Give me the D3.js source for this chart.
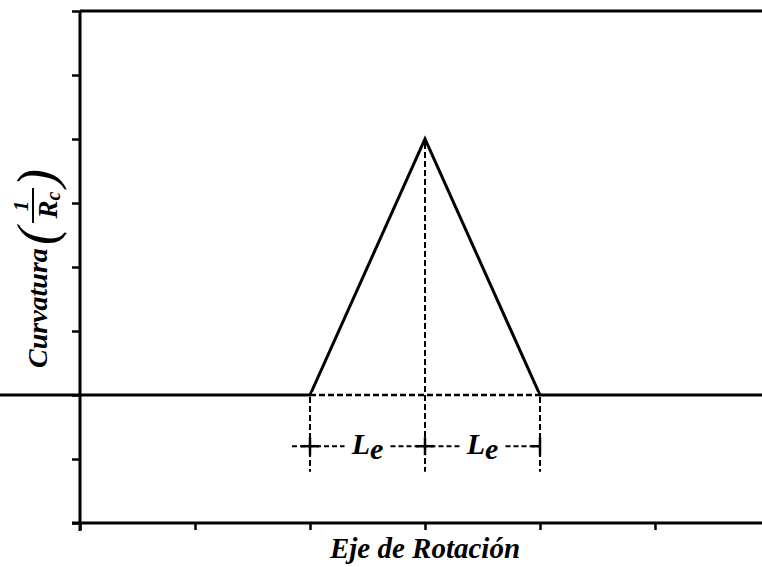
<!DOCTYPE html>
<html>
<head>
<meta charset="utf-8">
<script src="https://d3js.org/d3.v7.min.js"></script>
<style>
  body { margin: 0; background: #fff; }
  svg { display: block; }
  .lbl { font-family: "Liberation Serif", "DejaVu Serif", serif; font-style: italic; font-weight: bold; fill: #000; }
</style>
</head>
<body>
<div id="container"></div>
<script>
var width = 762;
var height = 567;

// positions along the rotation axis (tick units) and curvature values
var xTicks = [0, 1, 2, 3, 4, 5, 6];
var yTicks = [-2, -1, 0, 1, 2, 3, 4, 5, 6];
var profileX = [-1, 2, 3, 4, 7];
var profileY = [0, 0, 4, 0, 0];
var markX = [2, 3, 4];
var labels = ["L", "L"];
var labelSub = ["e", "e"];

var x = d3.scaleLinear().domain([0, 6]).range([80, 770]);
var y = d3.scaleLinear().domain([-2, 6]).range([523, 11]);

var svg = d3.select("#container").append("svg")
            .attr("width", width)
            .attr("height", height);

// axes
var gx = svg.append("g")
            .attr("transform", "translate(0," + y(-2) + ")")
            .call(d3.axisBottom(x).tickValues(xTicks).tickSize(7).tickSizeOuter(0).tickFormat(""));
var gy = svg.append("g")
            .attr("transform", "translate(" + x(0) + ",0)")
            .call(d3.axisLeft(y).tickValues(yTicks).tickSize(8).tickSizeOuter(0).tickFormat(""));
[gx, gy].forEach(function (g) {
  g.select(".domain").attr("stroke", "#000").attr("stroke-width", 3);
  g.selectAll(".tick line").attr("stroke", "#000").attr("stroke-width", 2.5);
});
gx.select(".domain").attr("d", "M" + (x(0) - 8) + ",0H" + width);
gy.select(".domain").attr("d", "M0," + y(6) + "V" + (y(-2) + 8));

// top frame
svg.append("line")
   .attr("x1", x(0)).attr("x2", width)
   .attr("y1", y(6)).attr("y2", y(6))
   .attr("stroke", "#000").attr("stroke-width", 3);

// curvature profile (solid, except under the triangle)
var line = d3.line().x(function (d) { return x(d[0]); }).y(function (d) { return y(d[1]); });
var pts = profileX.map(function (v, i) { return [v, profileY[i]]; });
svg.append("path")
   .datum(pts)
   .attr("d", line)
   .attr("fill", "none")
   .attr("stroke", "#000")
   .attr("stroke-width", 3)
   .attr("stroke-linejoin", "miter");
// cover the base with white, then dash it
svg.append("line")
   .attr("x1", x(markX[0]) + 2).attr("x2", x(markX[2]) - 2)
   .attr("y1", y(0)).attr("y2", y(0))
   .attr("stroke", "#fff").attr("stroke-width", 5);
svg.append("line")
   .attr("x1", x(markX[0])).attr("x2", x(markX[2]))
   .attr("y1", y(0)).attr("y2", y(0))
   .attr("stroke", "#000").attr("stroke-width", 2.5)
   .attr("stroke-dasharray", "6,3");

// vertical dashed guides
var dimY = y(-0.8);
svg.selectAll("line.guide")
   .data(markX)
   .enter()
   .append("line")
   .attr("class", "guide")
   .attr("x1", function (d) { return x(d); })
   .attr("x2", function (d) { return x(d); })
   .attr("y1", function (d) { return d === 3 ? y(4) + 4 : y(0) + 2; })
   .attr("y2", y(-1.2))
   .attr("stroke", "#000").attr("stroke-width", 2)
   .attr("stroke-dasharray", "6,3");

// dimension line with gaps for labels
var segs = [[x(2) - 18, x(2.3)], [x(2.7), x(3.3)], [x(3.7), x(4)]];
svg.selectAll("line.dim")
   .data(segs)
   .enter()
   .append("line")
   .attr("class", "dim")
   .attr("x1", function (d) { return d[0]; })
   .attr("x2", function (d) { return d[1]; })
   .attr("y1", dimY).attr("y2", dimY)
   .attr("stroke", "#000").attr("stroke-width", 2)
   .attr("stroke-dasharray", "5,3");

// small solid crosses where the guides meet the dimension line
markX.forEach(function (d, i) {
  svg.append("line")
     .attr("x1", x(d)).attr("x2", x(d))
     .attr("y1", dimY - 9).attr("y2", dimY + 9)
     .attr("stroke", "#000").attr("stroke-width", 2.5);
  svg.append("line")
     .attr("x1", x(d) - 9).attr("x2", x(d) + (i === 2 ? 0 : 9))
     .attr("y1", dimY).attr("y2", dimY)
     .attr("stroke", "#000").attr("stroke-width", 2.5);
});

// L_e labels
labels.forEach(function (t, i) {
  var cx = x((markX[i] + markX[i + 1]) / 2);
  var txt = svg.append("text")
     .attr("class", "lbl")
     .attr("x", cx)
     .attr("y", dimY + 8)
     .attr("text-anchor", "middle")
     .style("font-size", "30px");
  txt.append("tspan").text(t);
  txt.append("tspan").attr("dy", 5).style("font-size", "30px").text(labelSub[i]);
});

// x axis title
svg.append("text")
   .attr("class", "lbl")
   .attr("x", x(3))
   .attr("y", 558)
   .attr("text-anchor", "middle")
   .style("font-size", "29px")
   .text("Eje de Rotación");

// y axis title (rotated): screen x = 47 + v, screen y = -u
var yt = svg.append("g").attr("transform", "translate(47,0) rotate(-90)");
yt.append("text")
  .attr("class", "lbl")
  .attr("x", -368).attr("y", 0)
  .style("font-size", "28px")
  .text("Curvatura");
yt.append("text")
  .attr("class", "lbl")
  .attr("x", -236).attr("y", 8)
  .attr("text-anchor", "middle")
  .style("font-size", "54px")
  .style("font-weight", "normal")
  .text("(");
yt.append("text")
  .attr("class", "lbl")
  .attr("x", -178).attr("y", 8)
  .attr("text-anchor", "middle")
  .style("font-size", "54px")
  .style("font-weight", "normal")
  .text(")");
yt.append("text")
  .attr("class", "lbl")
  .attr("x", -206).attr("y", -19)
  .attr("text-anchor", "middle")
  .style("font-size", "21px")
  .text("1");
yt.append("line")
  .attr("x1", -223).attr("x2", -188)
  .attr("y1", -14).attr("y2", -14)
  .attr("stroke", "#000").attr("stroke-width", 2);
var rc = yt.append("text")
  .attr("class", "lbl")
  .attr("x", -205).attr("y", 10)
  .attr("text-anchor", "middle")
  .style("font-size", "27px");
rc.append("tspan").text("R");
rc.append("tspan").attr("dy", 3).style("font-size", "20px").text("c");
</script>
</body>
</html>
